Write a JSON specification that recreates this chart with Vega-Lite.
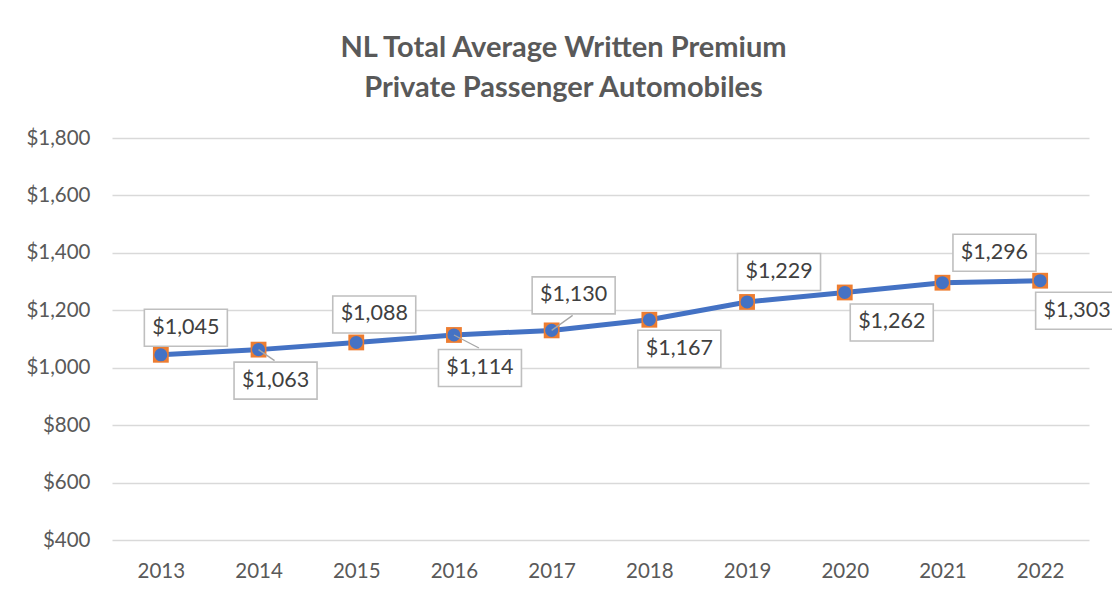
{
  "$schema": "https://vega.github.io/schema/vega-lite/v6.json",
  "autosize": {"type": "none"},
  "width": 977,
  "height": 402,
  "padding": {"left": 112, "top": 138, "right": 23, "bottom": 58},
  "background": "white",
  "config": {"view": {"stroke": null}, "font": "Lato"},
  "title": {
    "text": ["NL Total Average Written Premium", "Private Passenger Automobiles"],
    "anchor": "middle",
    "frame": "group",
    "dx": -37,
    "offset": 25,
    "fontSize": 29,
    "fontWeight": "bold",
    "color": "#595959",
    "lineHeight": 40,
    "font": "Lato"
  },
  "data": {
    "values": [
      {"year": 2013, "premium": 1045},
      {"year": 2014, "premium": 1063},
      {"year": 2015, "premium": 1088},
      {"year": 2016, "premium": 1114},
      {"year": 2017, "premium": 1130},
      {"year": 2018, "premium": 1167},
      {"year": 2019, "premium": 1229},
      {"year": 2020, "premium": 1262},
      {"year": 2021, "premium": 1296},
      {"year": 2022, "premium": 1303}
    ]
  },
  "encoding": {
    "x": {
      "field": "year",
      "type": "ordinal",
      "scale": {"type": "point", "padding": 0.5},
      "axis": {
        "title": null,
        "labelAngle": 0,
        "domain": false,
        "ticks": false,
        "grid": false,
        "labelFontSize": 20.5,
        "labelColor": "#595959",
        "labelPadding": 21,
        "labelFont": "Lato"
      }
    },
    "y": {
      "field": "premium",
      "type": "quantitative",
      "scale": {"domain": [400, 1800], "nice": false, "zero": false},
      "axis": {
        "title": null,
        "values": [400, 600, 800, 1000, 1200, 1400, 1600, 1800],
        "format": "$,.0f",
        "domain": false,
        "ticks": false,
        "gridColor": "#d9d9d9",
        "gridWidth": 1.3,
        "labelFontSize": 20.5,
        "labelColor": "#595959",
        "labelPadding": 22,
        "labelFont": "Lato"
      }
    }
  },
  "layer": [
    {"mark": {"type": "line", "color": "#4472C4", "strokeWidth": 5}},
    {"mark": {"type": "point", "shape": "square", "filled": true, "color": "#ED7D31", "size": 250, "opacity": 1}},
    {"mark": {"type": "point", "shape": "circle", "filled": true, "color": "#4472C4", "size": 170, "opacity": 1}},
    {
      "transform": [{"filter": {"field": "year", "oneOf": [2014, 2016, 2017]}}],
      "mark": {
        "type": "point",
        "filled": false,
        "stroke": "#a6a6a6",
        "strokeWidth": 1.3,
        "opacity": 1,
        "size": 4,
        "shape": {"expr": "datum.year == 2014 ? 'M0,0L16,11' : (datum.year == 2016 ? 'M0,0L25,13' : 'M0,0L21,-15')"}
      }
    },
    {
      "mark": {
        "type": "point",
        "filled": true,
        "fill": "white",
        "stroke": "#bfbfbf",
        "strokeWidth": 1.6,
        "opacity": 1,
        "size": 4,
        "shape": {"expr": "'M' + ([25,17,18,26,22,30,32,47,52,37][datum.year - 2013] - 41.5) + ',' + ([-27,31,-28,33,-35,29,-30,30,-30,30][datum.year - 2013] - 18.5) + 'h83v37h-83z'"}
      }
    },
    {
      "mark": {
        "type": "text",
        "align": "center",
        "baseline": "middle",
        "fontSize": 21.5,
        "color": "#404040",
        "font": "Lato",
        "dx": {"expr": "[25,17,18,26,22,30,32,47,52,37][datum.year - 2013]"},
        "dy": {"expr": "[-27,31,-28,33,-35,29,-30,30,-30,30][datum.year - 2013]"}
      },
      "encoding": {"text": {"field": "premium", "type": "quantitative", "format": "$,.0f"}}
    }
  ]
}
